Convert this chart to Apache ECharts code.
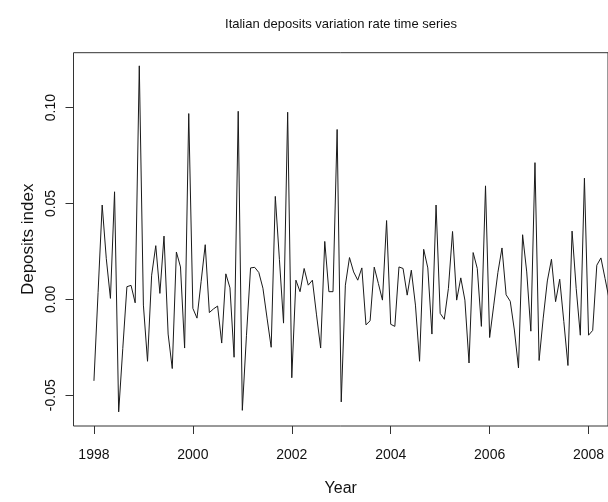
<!DOCTYPE html>
<html>
<head>
<meta charset="utf-8">
<script src="https://cdn.jsdelivr.net/npm/echarts@6/dist/echarts.min.js"></script>
<style>
html,body{margin:0;padding:0;background:#fff;}
#chart{width:608px;height:502px;}
</style>
</head>
<body>
<div id="chart"></div>
<script>
// Monthly series starting January 1998
const startYear = 1998;
const monthsPerYear = 12;
const depositsVariation = [
  -0.0425, 0.0035, 0.0492, 0.0212, 0.0005, 0.0561, -0.0587, -0.0256, 0.0066, 0.0073, -0.0018, 0.1218,
  -0.0030, -0.0323, 0.0126, 0.0280, 0.0031, 0.0330, -0.0181, -0.0361, 0.0247, 0.0169, -0.0254, 0.0969,
  -0.0047, -0.0098, 0.0092, 0.0285, -0.0069, -0.0050, -0.0035, -0.0228, 0.0133, 0.0060, -0.0302, 0.0981,
  -0.0579, -0.0190, 0.0164, 0.0167, 0.0140, 0.0058, -0.0098, -0.0250, 0.0537, 0.0207, -0.0124, 0.0976,
  -0.0409, 0.0100, 0.0040, 0.0161, 0.0074, 0.0100, -0.0081, -0.0254, 0.0302, 0.0040, 0.0040, 0.0886,
  -0.0535, 0.0074, 0.0218, 0.0143, 0.0100, 0.0164, -0.0133, -0.0112, 0.0168, 0.0083, -0.0004, 0.0411,
  -0.0130, -0.0141, 0.0169, 0.0161, 0.0022, 0.0152, -0.0030, -0.0323, 0.0261, 0.0164, -0.0181, 0.0492,
  -0.0073, -0.0104, 0.0057, 0.0354, -0.0004, 0.0112, -0.0004, -0.0332, 0.0244, 0.0161, -0.0141, 0.0592,
  -0.0199, -0.0030, 0.0140, 0.0268, 0.0024, -0.0010, -0.0160, -0.0358, 0.0337, 0.0143, -0.0166, 0.0713,
  -0.0319, -0.0098, 0.0096, 0.0209, -0.0012, 0.0105, -0.0116, -0.0345, 0.0356, 0.0057, -0.0187, 0.0632,
  -0.0187, -0.0162, 0.0178, 0.0216, 0.0109, 0.0000
];
const xTickValues = [1998, 2000, 2002, 2004, 2006, 2008];
const yTickValues = [-0.05, 0.00, 0.05, 0.10];
const titleText = 'Italian deposits variation rate time series';
const xTitle = 'Year';
const yTitle = 'Deposits index';

const seriesData = depositsVariation.map((v, i) => [startYear + i / monthsPerYear, v]);

const chart = echarts.init(document.getElementById('chart'), null, {renderer: 'canvas'});
const FONT = '"Liberation Sans", Arial, Helvetica, sans-serif';
const frameColor = '#333';

chart.setOption({
  animation: false,
  backgroundColor: '#fff',
  graphic: [{
    type: 'text',
    x: 341,
    y: 24,
    style: {
      text: titleText,
      fill: '#111',
      font: '13px ' + FONT,
      align: 'center',
      verticalAlign: 'middle'
    }
  }],
  grid: {
    left: 73.5,
    top: 52.7,
    width: 536,
    height: 375.8,
    show: true,
    borderColor: frameColor,
    borderWidth: 1,
    backgroundColor: 'transparent'
  },
  xAxis: {
    type: 'value',
    min: 1997.5867,
    max: 2008.3931,
    name: xTitle,
    nameLocation: 'middle',
    nameGap: 55,
    nameTextStyle: {color: '#111', fontSize: 16, fontFamily: FONT},
    axisLine: {show: false, onZero: false},
    splitLine: {show: false},
    axisTick: {show: true, inside: false, length: 8, lineStyle: {color: frameColor, width: 1}, customValues: xTickValues},
    axisLabel: {show: true, margin: 22, color: '#111', fontSize: 14, fontFamily: FONT, customValues: xTickValues,
      formatter: v => String(Math.round(v))}
  },
  yAxis: {
    type: 'value',
    min: -0.06606,
    max: 0.12865,
    name: yTitle,
    nameLocation: 'middle',
    nameRotate: 90,
    nameGap: 34,
    nameTextStyle: {color: '#111', fontSize: 17, fontFamily: FONT},
    axisLine: {show: false, onZero: false},
    splitLine: {show: false},
    axisTick: {show: true, inside: false, length: 8, lineStyle: {color: frameColor, width: 1}, customValues: yTickValues},
    axisLabel: {show: true, rotate: 90, margin: 15, color: '#111', fontSize: 14, fontFamily: FONT, customValues: yTickValues,
      formatter: v => v.toFixed(2)}
  },
  series: [{
    type: 'line',
    data: seriesData,
    showSymbol: false,
    symbol: 'none',
    clip: true,
    lineStyle: {color: '#1a1a1a', width: 1},
    emphasis: {disabled: true}
  }]
});
</script>
</body>
</html>
